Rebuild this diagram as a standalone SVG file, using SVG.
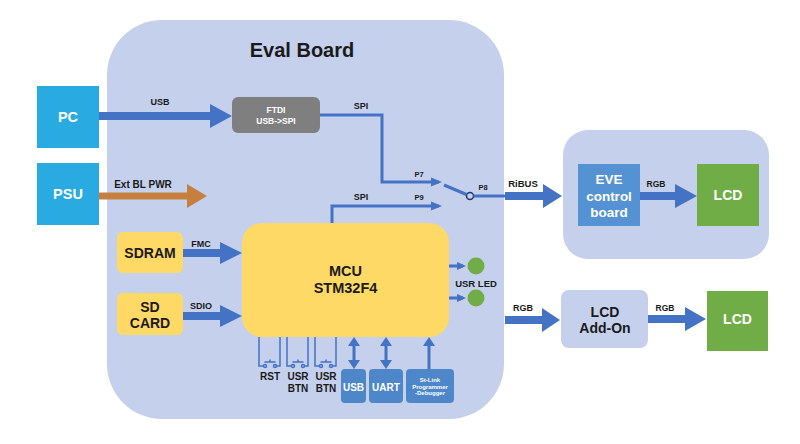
<svg xmlns="http://www.w3.org/2000/svg" width="800" height="444" viewBox="0 0 800 444">
<style>
text{font-family:"Liberation Sans",Arial,sans-serif;font-weight:700;text-anchor:middle;fill:#1a1a1a}
.w{fill:#ffffff}
.board{fill:#c5d0ec}
.ext{fill:#29abe2}
.yel{fill:#ffd966}
.blu{fill:#4e87c9}
.grn{fill:#70ad47}
.thick{fill:#4472c4}
.line{fill:none;stroke:#4472c4;stroke-width:3}
.btn{fill:none;stroke:#4472c4;stroke-width:1.5}
</style>
<defs>
<marker id="ah" markerUnits="userSpaceOnUse" markerWidth="11" markerHeight="10" refX="8" refY="5" orient="auto"><path d="M0,0.5 L11,5 L0,9.5 z" fill="#4472c4"/></marker>
<marker id="ahs" markerUnits="userSpaceOnUse" markerWidth="9" markerHeight="8" refX="6" refY="4" orient="auto"><path d="M0,0 L9,4 L0,8 z" fill="#4472c4"/></marker>
<marker id="ahb" markerUnits="userSpaceOnUse" markerWidth="9" markerHeight="12" refX="6" refY="6" orient="auto-start-reverse"><path d="M0,0 L9,6 L0,12 z" fill="#4472c4"/></marker>
</defs>

<g id="eval-board">
<rect class="board" x="107" y="20" width="397" height="399" rx="55"/>
<text x="302" y="57" font-size="20">Eval Board</text>
</g>

<g id="pc"><rect class="ext" x="37" y="86" width="62" height="62"/><text class="w" x="68" y="122" font-size="14.5">PC</text></g>
<g id="psu"><rect class="ext" x="37" y="163" width="62" height="62"/><text class="w" x="68" y="199" font-size="14.5">PSU</text></g>

<g id="ftdi"><rect x="232" y="97" width="88" height="36" rx="6" fill="#7f7f7f"/>
<text class="w" x="276" y="113" font-size="8.5">FTDI</text><text class="w" x="276" y="124" font-size="8.5">USB-&gt;SPI</text></g>

<g id="sdram"><rect class="yel" x="117" y="232" width="66" height="41" rx="6"/><text x="150" y="258" font-size="14">SDRAM</text></g>
<g id="sdcard"><rect class="yel" x="117" y="293" width="66" height="42" rx="6"/><text x="150" y="312" font-size="14">SD</text><text x="150" y="328" font-size="14">CARD</text></g>

<g id="mcu"><rect class="yel" x="242" y="223" width="207" height="114" rx="20"/>
<text x="345.5" y="276" font-size="14.5">MCU</text><text x="345.5" y="293" font-size="14.5">STM32F4</text></g>

<g id="usr-led"><circle class="grn" cx="476" cy="266" r="8.5"/><circle class="grn" cx="476" cy="298" r="8.5"/>
<text x="476" y="287" font-size="9.5">USR LED</text></g>

<g id="btn-rst"><path class="btn" d="M259,337 V366 H263.5 M276.5,366 H280 V337 M264.5,362 H275.5 M270,362 V359.5"/><circle class="btn" cx="265" cy="366" r="1.5"/><circle class="btn" cx="275" cy="366" r="1.5"/>
<text x="270" y="380" font-size="10">RST</text></g>
<g id="btn-usr1"><path class="btn" d="M287,337 V366 H291.5 M304.5,366 H308 V337 M292.5,362 H303.5 M298,362 V359.5"/><circle class="btn" cx="293" cy="366" r="1.5"/><circle class="btn" cx="303" cy="366" r="1.5"/>
<text x="298" y="380" font-size="10">USR</text><text x="298" y="392" font-size="10">BTN</text></g>
<g id="btn-usr2"><path class="btn" d="M315,337 V366 H319.5 M332.5,366 H336 V337 M320.5,362 H331.5 M326,362 V359.5"/><circle class="btn" cx="321" cy="366" r="1.5"/><circle class="btn" cx="331" cy="366" r="1.5"/>
<text x="326" y="380" font-size="10">USR</text><text x="326" y="392" font-size="10">BTN</text></g>

<g id="usb"><rect class="blu" x="341" y="369" width="25" height="34" rx="4"/><text class="w" x="353.5" y="391" font-size="10">USB</text></g>
<g id="uart"><rect class="blu" x="369" y="369" width="34" height="34" rx="4"/><text class="w" x="386" y="391" font-size="10">UART</text></g>
<g id="stlink"><rect class="blu" x="406" y="369" width="48" height="34" rx="4"/>
<text class="w" x="430" y="382" font-size="6">St-Link</text><text class="w" x="430" y="388.5" font-size="6">Programmer</text><text class="w" x="430" y="395" font-size="6">-Debugger</text></g>

<g id="switch"><circle cx="470" cy="196" r="3.5" fill="#c5d0ec" stroke="#1f3864" stroke-width="1.5"/></g>

<g id="eve-board"><rect class="board" x="563" y="130" width="206" height="129" rx="25"/></g>
<g id="eve-control"><rect x="578" y="164" width="62" height="62" fill="#5592d4"/>
<text class="w" x="609" y="184" font-size="13.5">EVE</text><text class="w" x="609" y="201" font-size="13.5">control</text><text class="w" x="609" y="217" font-size="13.5">board</text></g>
<g id="lcd1"><rect class="grn" x="697" y="164" width="62" height="62"/><text class="w" x="728" y="200" font-size="14">LCD</text></g>

<g id="lcd-addon"><rect class="board" x="561" y="290" width="87" height="58" rx="8"/>
<text x="605" y="317" font-size="14">LCD</text><text x="605" y="333" font-size="14">Add-On</text></g>
<g id="lcd2"><rect class="grn" x="707" y="291" width="61" height="60"/><text class="w" x="737.5" y="324" font-size="14">LCD</text></g>

<g id="connectors">
<polygon class="thick" points="99,112 210,112 210,104 232,116 210,128 210,120 99,120"/>
<text x="160" y="105" font-size="9">USB</text>
<polygon points="99,192.5 187,192.5 187,184 207,196 187,208 187,199.5 99,199.5" fill="#c5803f"/>
<text x="143" y="188" font-size="10">Ext BL PWR</text>

<polyline class="line" points="320,115 382,115 382,182 439,182" marker-end="url(#ah)"/>
<text x="361" y="109" font-size="9">SPI</text>
<text x="419" y="177" font-size="7.5">P7</text>
<polyline class="line" points="332,223 332,206 439,206" marker-end="url(#ah)"/>
<text x="361" y="200" font-size="9">SPI</text>
<text x="419" y="200" font-size="7.5">P9</text>
<line class="line" x1="444" y1="185" x2="466.5" y2="194.5"/>
<line class="line" x1="473.5" y1="196" x2="506" y2="196"/>
<text x="483" y="190" font-size="7.5">P8</text>
<polygon class="thick" points="505,192 543,192 543,184 562,196 543,208 543,200 505,200"/>
<text x="523" y="187" font-size="9.5">RiBUS</text>

<polygon class="thick" points="640,192 675,192 675,184 697,196 675,208 675,200 640,200"/>
<text x="656" y="187" font-size="8.5">RGB</text>
<polygon class="thick" points="505,316 542,316 542,308 560,320 542,332 542,324 505,324"/>
<text x="523" y="311" font-size="9">RGB</text>
<polygon class="thick" points="648,315 685,315 685,307 706,319 685,331 685,323 648,323"/>
<text x="665" y="311" font-size="8.5">RGB</text>

<polygon class="thick" points="183,249 220,249 220,242 242,253 220,264 220,257 183,257"/>
<text x="201" y="247" font-size="9">FMC</text>
<polygon class="thick" points="183,312 220,312 220,305 242,316 220,327 220,320 183,320"/>
<text x="201" y="309" font-size="9">SDIO</text>

<line class="line" x1="449" y1="266" x2="463" y2="266" marker-end="url(#ahs)"/>
<line class="line" x1="449" y1="298" x2="463" y2="298" marker-end="url(#ahs)"/>

<line class="line" x1="354" y1="340" x2="354" y2="366" marker-start="url(#ahb)" marker-end="url(#ahb)"/>
<line class="line" x1="386" y1="340" x2="386" y2="366" marker-start="url(#ahb)" marker-end="url(#ahb)"/>
<line class="line" x1="429" y1="369" x2="429" y2="340" marker-end="url(#ahb)"/>
</g>
</svg>
